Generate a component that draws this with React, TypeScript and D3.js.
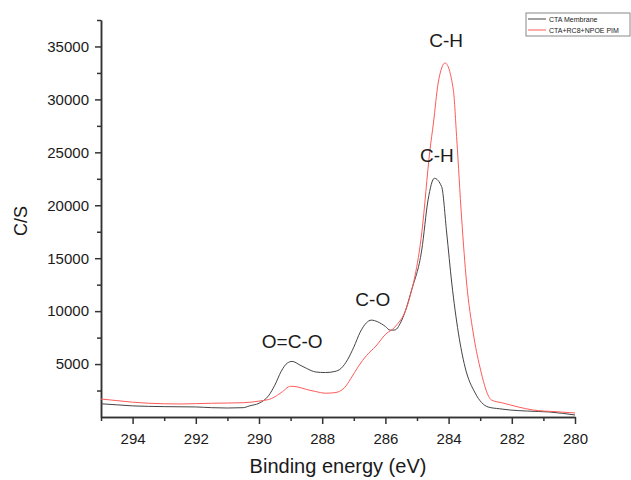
import React, { useEffect, useRef } from 'react';
import * as d3 from 'd3';

// CTA Membrane (black)
const ctaEnergy = [295.0, 294.5, 294.0, 293.0, 292.0, 291.5, 291.0, 290.5, 290.3, 290.0, 289.7, 289.5, 289.3, 289.1, 288.95, 288.7, 288.5, 288.2, 287.9, 287.6, 287.4, 287.2, 287.0, 286.8, 286.6, 286.45, 286.25, 286.0, 285.85, 285.7, 285.48, 285.17, 284.85, 284.65, 284.45, 284.22, 284.06, 283.9, 283.69, 283.48, 283.16, 282.75, 282.4, 282.06, 281.5, 280.8, 280.0];
const ctaCounts = [1250, 1150, 1050, 980, 950, 880, 850, 880, 1050, 1300, 2000, 3000, 4300, 5100, 5250, 4900, 4600, 4250, 4200, 4300, 4600, 5400, 6600, 8000, 8900, 9150, 9000, 8550, 8200, 8220, 9160, 12000, 15770, 20500, 22550, 21750, 17380, 12660, 7930, 4720, 2270, 945, 780, 660, 560, 470, 190];

// CTA+RC8+NPOE PIM (red)
const pimEnergy = [295.0, 294.5, 294.0, 293.5, 293.0, 292.5, 292.0, 291.5, 291.0, 290.5, 290.0, 289.6, 289.3, 289.0, 288.8, 288.5, 288.2, 287.9, 287.6, 287.3, 287.1, 286.85, 286.6, 286.3, 286.0, 285.7, 285.28, 284.85, 284.59, 284.48, 284.33, 284.11, 283.85, 283.74, 283.59, 283.43, 283.22, 283.01, 282.64, 282.28, 281.8, 281.33, 280.6, 280.0];
const pimCounts = [1700, 1550, 1400, 1300, 1250, 1230, 1260, 1300, 1320, 1350, 1500, 1750, 2300, 2900, 2850, 2600, 2400, 2250, 2300, 2750, 3600, 4800, 5800, 6700, 7800, 8500, 10770, 17380, 25220, 27770, 31550, 33440, 30890, 26170, 18890, 12660, 7930, 4720, 1600, 1320, 950, 660, 500, 380];

const xMajorTicks = [294, 292, 290, 288, 286, 284, 282, 280];
const xMinorTicks = [295, 293, 291, 289, 287, 285, 283, 281];
const yMajorTicks = [5000, 10000, 15000, 20000, 25000, 30000, 35000];
const yMinorTicks = [2500, 7500, 12500, 17500, 22500, 27500, 32500, 37500];

const peakLabels = [
  { text: 'C-H', e: 284.08, v: 34950 },
  { text: 'C-H', e: 284.37, v: 24090 },
  { text: 'C-O', e: 286.4, v: 10500 },
  { text: 'O=C-O', e: 288.95, v: 6550 },
];

const legendItems = [
  { name: 'CTA Membrane', color: '#444' },
  { name: 'CTA+RC8+NPOE PIM', color: '#ff5a5a' },
];

const font = '"Liberation Sans", Arial, sans-serif';

export default function App() {
  const ref = useRef<SVGSVGElement>(null);

  useEffect(() => {
    const svg = d3.select(ref.current);
    svg.selectAll('*').remove();

    const x = d3.scaleLinear().domain([295, 280]).range([101, 575]);
    const y = d3.scaleLinear().domain([0, 37500]).range([417, 20]);

    const line = d3
      .line<[number, number]>()
      .x(d => x(d[0]))
      .y(d => y(d[1]))
      .curve(d3.curveMonotoneX);

    // axes: minor ticks first, then majors with labels
    const xMinor = svg.append('g').attr('transform', 'translate(0,417)')
      .call(d3.axisBottom(x).tickValues(xMinorTicks).tickSize(4).tickSizeOuter(0).tickFormat(() => ''));
    const xMajor = svg.append('g').attr('transform', 'translate(0,417)')
      .call(d3.axisBottom(x).tickValues(xMajorTicks).tickSize(7).tickPadding(9).tickSizeOuter(0).tickFormat(d3.format('d')));
    const yMinor = svg.append('g').attr('transform', 'translate(101,0)')
      .call(d3.axisLeft(y).tickValues(yMinorTicks).tickSize(4).tickSizeOuter(0).tickFormat(() => ''));
    const yMajor = svg.append('g').attr('transform', 'translate(101,0)')
      .call(d3.axisLeft(y).tickValues(yMajorTicks).tickSize(6).tickPadding(6).tickSizeOuter(0).tickFormat(d3.format('d')));

    [xMinor, xMajor, yMinor, yMajor].forEach(g => {
      g.selectAll('path').attr('stroke', '#333').attr('stroke-width', 1.5);
      g.selectAll('line').attr('stroke', '#333').attr('stroke-width', 1.5);
      g.selectAll('text').attr('fill', '#1a1a1a').style('font-family', font).style('font-size', '15px');
    });

    const ctaData = ctaEnergy.map((e, i) => [e, ctaCounts[i]] as [number, number]);
    const pimData = pimEnergy.map((e, i) => [e, pimCounts[i]] as [number, number]);

    svg.append('path').datum(ctaData).attr('d', line)
      .attr('fill', 'none').attr('stroke', legendItems[0].color).attr('stroke-width', 1);
    svg.append('path').datum(pimData).attr('d', line)
      .attr('fill', 'none').attr('stroke', legendItems[1].color).attr('stroke-width', 1);

    svg.selectAll('text.peak')
      .data(peakLabels)
      .enter()
      .append('text')
      .attr('class', 'peak')
      .attr('x', d => x(d.e))
      .attr('y', d => y(d.v))
      .attr('text-anchor', 'middle')
      .attr('fill', '#1a1a1a')
      .style('font-family', font)
      .style('font-size', '19px')
      .text(d => d.text);

    svg.append('text')
      .attr('x', 338)
      .attr('y', 473)
      .attr('text-anchor', 'middle')
      .attr('fill', '#1a1a1a')
      .style('font-family', font)
      .style('font-size', '20px')
      .text('Binding energy (eV)');

    svg.append('text')
      .attr('transform', 'translate(27,221) rotate(-90)')
      .attr('text-anchor', 'middle')
      .attr('fill', '#1a1a1a')
      .style('font-family', font)
      .style('font-size', '18px')
      .text('C/S');

    const legend = svg.append('g').attr('transform', 'translate(526,13)');
    legend.append('rect')
      .attr('width', 104).attr('height', 23)
      .attr('fill', 'white').attr('stroke', '#888').attr('stroke-width', 1);
    const rows = legend.selectAll('g.row')
      .data(legendItems)
      .enter()
      .append('g')
      .attr('class', 'row')
      .attr('transform', (d, i) => 'translate(0,' + (6 + i * 11) + ')');
    rows.append('line')
      .attr('x1', 2).attr('x2', 20)
      .attr('stroke', d => d.color).attr('stroke-width', 1);
    rows.append('text')
      .attr('x', 23).attr('y', 2.5)
      .attr('fill', '#1a1a1a')
      .style('font-family', font)
      .style('font-size', '7px')
      .text(d => d.name);
  }, []);

  return (
    <svg ref={ref} width={631} height={480} style={{ position: 'absolute', left: 0, top: 0, background: 'white' }} />
  );
}
